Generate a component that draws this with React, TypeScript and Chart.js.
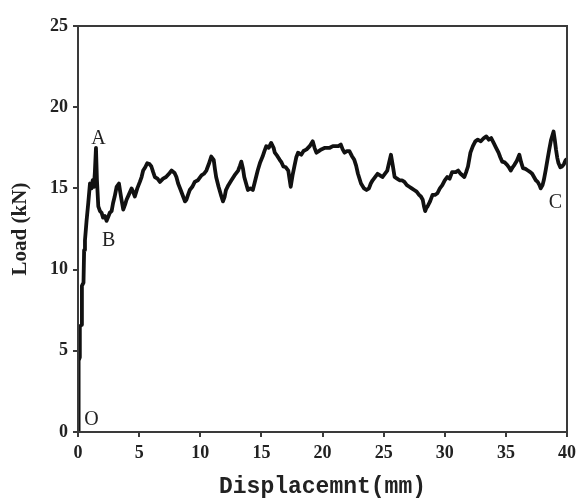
import React, { useEffect, useRef } from "react";
import { Chart, registerables } from "chart.js";

Chart.register(...registerables);

// Displacement (mm)
const displacement: number[] = [
  0, 0.05, 0.15, 0.15, 0.3, 0.32, 0.45, 0.5, 0.57, 0.7, 0.84, 0.98, 1.1, 1.2, 1.3, 1.38, 1.47, 1.55, 1.66, 1.8,
  1.93, 2.05, 2.2, 2.34, 2.45, 2.6, 2.75, 2.87, 3.0, 3.16, 3.35, 3.45, 3.56, 3.7, 3.85, 3.97, 4.15, 4.38, 4.5, 4.65,
  4.85, 5.06, 5.2, 5.33, 5.5, 5.66, 5.85, 6.0, 6.15, 6.29, 6.5, 6.7, 6.96, 7.2, 7.5, 7.65, 7.9, 8.05, 8.19, 8.4,
  8.6, 8.75, 8.87, 9.0, 9.14, 9.35, 9.55, 9.8, 10.1, 10.3, 10.5, 10.7, 10.9, 11.1, 11.2, 11.3, 11.5, 11.73, 11.86, 12.0,
  12.1, 12.3, 12.55, 12.8, 13.1, 13.25, 13.36, 13.5, 13.6, 13.75, 13.9, 14.1, 14.3, 14.5, 14.7, 14.9, 15.1, 15.25, 15.4, 15.6,
  15.8, 16.0, 16.1, 16.3, 16.5, 16.65, 16.8, 17.0, 17.2, 17.3, 17.4, 17.55, 17.7, 17.85, 18.0, 18.26, 18.45, 18.7, 18.95, 19.2,
  19.35, 19.5, 19.7, 19.9, 20.2, 20.6, 20.85, 21.1, 21.3, 21.5, 21.65, 21.8, 22.0, 22.2, 22.4, 22.6, 22.75, 22.9, 23.15, 23.4,
  23.6, 23.8, 23.95, 24.1, 24.3, 24.5, 24.7, 24.9, 25.1, 25.3, 25.45, 25.6, 25.75, 25.9, 26.1, 26.3, 26.5, 26.7, 26.9, 27.1,
  27.3, 27.5, 27.7, 27.9, 28.05, 28.2, 28.3, 28.4, 28.5, 28.6, 28.8, 29.0, 29.2, 29.4, 29.6, 29.8, 30.0, 30.2, 30.4, 30.6,
  30.9, 31.1, 31.3, 31.6, 31.75, 31.9, 32.1, 32.3, 32.5, 32.7, 32.95, 33.2, 33.4, 33.6, 33.8, 34.0, 34.2, 34.4, 34.55, 34.7,
  34.9, 35.1, 35.25, 35.4, 35.55, 35.7, 35.9, 36.1, 36.25, 36.4, 36.6, 36.8, 37.0, 37.15, 37.3, 37.45, 37.6, 37.75, 37.85, 38.0,
  38.1, 38.25, 38.4, 38.55, 38.7, 38.9, 39.0, 39.1, 39.2, 39.3, 39.45, 39.6, 39.75, 39.9, 40,
];

// Load (kN)
const load: number[] = [
  0, 4.4, 4.6, 6.5, 6.6, 9.0, 9.2, 11.2, 11.8, 13.0, 14.1, 15.3, 15.0, 15.5, 15.1, 16.0, 17.5, 15.5, 13.9, 13.6,
  13.5, 13.2, 13.3, 13.0, 13.2, 13.5, 13.6, 14.1, 14.5, 15.1, 15.3, 14.8, 14.3, 13.7, 14.0, 14.3, 14.6, 15.0, 14.8, 14.5,
  15.0, 15.4, 15.7, 16.1, 16.3, 16.55, 16.5, 16.35, 16.0, 15.7, 15.6, 15.4, 15.6, 15.7, 15.95, 16.1, 15.95, 15.7, 15.3, 14.9,
  14.5, 14.2, 14.3, 14.6, 14.9, 15.1, 15.4, 15.5, 15.8, 15.9, 16.1, 16.5, 16.96, 16.76, 16.2, 15.7, 15.1, 14.5, 14.2, 14.5,
  14.9, 15.2, 15.5, 15.8, 16.1, 16.4, 16.65, 16.2, 15.7, 15.3, 14.9, 15.0, 14.9, 15.5, 16.1, 16.6, 16.96, 17.3, 17.6, 17.5,
  17.8, 17.5, 17.2, 17.0, 16.76, 16.6, 16.35, 16.3, 16.1, 15.6, 15.1, 15.8, 16.35, 16.9, 17.2, 17.07, 17.3, 17.4, 17.6, 17.9,
  17.5, 17.2, 17.3, 17.4, 17.5, 17.5, 17.6, 17.6, 17.6, 17.7, 17.4, 17.2, 17.3, 17.3, 17.0, 16.76, 16.4, 15.9, 15.3, 15.0,
  14.9, 15.0, 15.3, 15.5, 15.7, 15.9, 15.8, 15.7, 15.9, 16.1, 16.6, 17.07, 16.4, 15.7, 15.6, 15.5, 15.5, 15.4, 15.2, 15.1,
  15.0, 14.9, 14.8, 14.6, 14.5, 14.3, 13.9, 13.6, 13.8, 13.9, 14.2, 14.6, 14.6, 14.7, 15.0, 15.2, 15.5, 15.7, 15.6, 16.0,
  16.0, 16.1, 15.9, 15.7, 16.0, 16.35, 17.2, 17.6, 17.9, 18.0, 17.9, 18.1, 18.2, 18.0, 18.1, 17.8, 17.5, 17.2, 16.9, 16.65,
  16.6, 16.45, 16.3, 16.1, 16.3, 16.45, 16.7, 17.07, 16.6, 16.25, 16.2, 16.1, 16.0, 15.9, 15.7, 15.5, 15.4, 15.2, 15.0, 15.2,
  15.5, 16.1, 16.76, 17.4, 18.0, 18.5, 18.0, 17.4, 16.9, 16.56, 16.3, 16.35, 16.5, 16.76, 16.8,
];

const xTicks: number[] = [0, 5, 10, 15, 20, 25, 30, 35, 40];
const yTicks: number[] = [0, 5, 10, 15, 20, 25];

const labelText: string[] = ["A", "B", "C", "O"];
const labelX: number[] = [1.67, 2.5, 39.06, 1.1];
const labelY: number[] = [18.08, 11.78, 14.14, 0.74];

const AXIS_COLOR = "#3a3a3a";

const annotationPlugin = {
  id: "pointLabels",
  afterDatasetsDraw(chart: any) {
    const { ctx, scales } = chart;
    ctx.save();
    ctx.fillStyle = "#222";
    ctx.font = "20px 'Liberation Serif', serif";
    ctx.textAlign = "center";
    ctx.textBaseline = "middle";
    labelText.forEach((t, i) => {
      ctx.fillText(t, scales.x.getPixelForValue(labelX[i]), scales.y.getPixelForValue(labelY[i]));
    });
    ctx.restore();
  },
};

const boxPlugin = {
  id: "frameBox",
  afterDraw(chart: any) {
    const { ctx, chartArea } = chart;
    ctx.save();
    ctx.strokeStyle = AXIS_COLOR;
    ctx.lineWidth = 2;
    ctx.strokeRect(chartArea.left, chartArea.top, chartArea.right - chartArea.left, chartArea.bottom - chartArea.top);
    ctx.restore();
  },
};

export default function App() {
  const ref = useRef<HTMLCanvasElement | null>(null);

  useEffect(() => {
    document.body.style.margin = "0";
    if (!ref.current) return;
    const points = displacement.map((x, i) => ({ x, y: load[i] }));
    const chart = new Chart(ref.current, {
      type: "line",
      data: {
        datasets: [
          {
            data: points,
            borderColor: "#111",
            borderWidth: 3.8,
            pointRadius: 0,
            tension: 0,
            fill: false,
            borderJoinStyle: "round",
            borderCapStyle: "round",
          },
        ],
      },
      options: {
        animation: false,
        responsive: true,
        maintainAspectRatio: false,
        layout: { padding: { top: 26, right: 14, left: 0, bottom: 0 } },
        plugins: { legend: { display: false }, tooltip: { enabled: false } },
        scales: {
          x: {
            type: "linear",
            min: 0,
            max: 40,
            afterBuildTicks: (scale: any) => {
              scale.ticks = xTicks.map((v) => ({ value: v }));
            },
            afterFit: (scale: any) => {
              scale.height = 69;
            },
            ticks: {
              color: "#222",
              font: { family: "'Liberation Serif', serif", size: 18, weight: "bold" },
              padding: 6,
              maxRotation: 0,
            },
            grid: {
              drawOnChartArea: false,
              drawTicks: true,
              tickLength: 5,
              color: AXIS_COLOR,
              lineWidth: 2,
            },
            border: { display: true, color: AXIS_COLOR, width: 2 },
            title: {
              display: true,
              text: "Displacemnt(mm)",
              color: "#222",
              font: { family: "'Liberation Mono', monospace", size: 23, weight: "bold" },
              padding: { top: 2, bottom: 0 },
            },
          },
          y: {
            type: "linear",
            min: 0,
            max: 25,
            afterBuildTicks: (scale: any) => {
              scale.ticks = yTicks.map((v) => ({ value: v }));
            },
            afterFit: (scale: any) => {
              scale.width = 78;
            },
            ticks: {
              color: "#222",
              font: { family: "'Liberation Serif', serif", size: 18, weight: "bold" },
              padding: 5,
            },
            grid: {
              drawOnChartArea: false,
              drawTicks: true,
              tickLength: 5,
              color: AXIS_COLOR,
              lineWidth: 2,
            },
            border: { display: true, color: AXIS_COLOR, width: 2 },
            title: {
              display: true,
              text: "Load (kN)",
              color: "#222",
              font: { family: "'Liberation Serif', serif", size: 21, weight: "bold" },
              padding: { top: 8, bottom: 0 },
            },
          },
        },
      },
      plugins: [annotationPlugin, boxPlugin],
    });
    return () => chart.destroy();
  }, []);

  return (
    <div style={{ position: "fixed", left: 0, top: 0, width: 582, height: 501 }}>
      <canvas ref={ref} />
    </div>
  );
}
